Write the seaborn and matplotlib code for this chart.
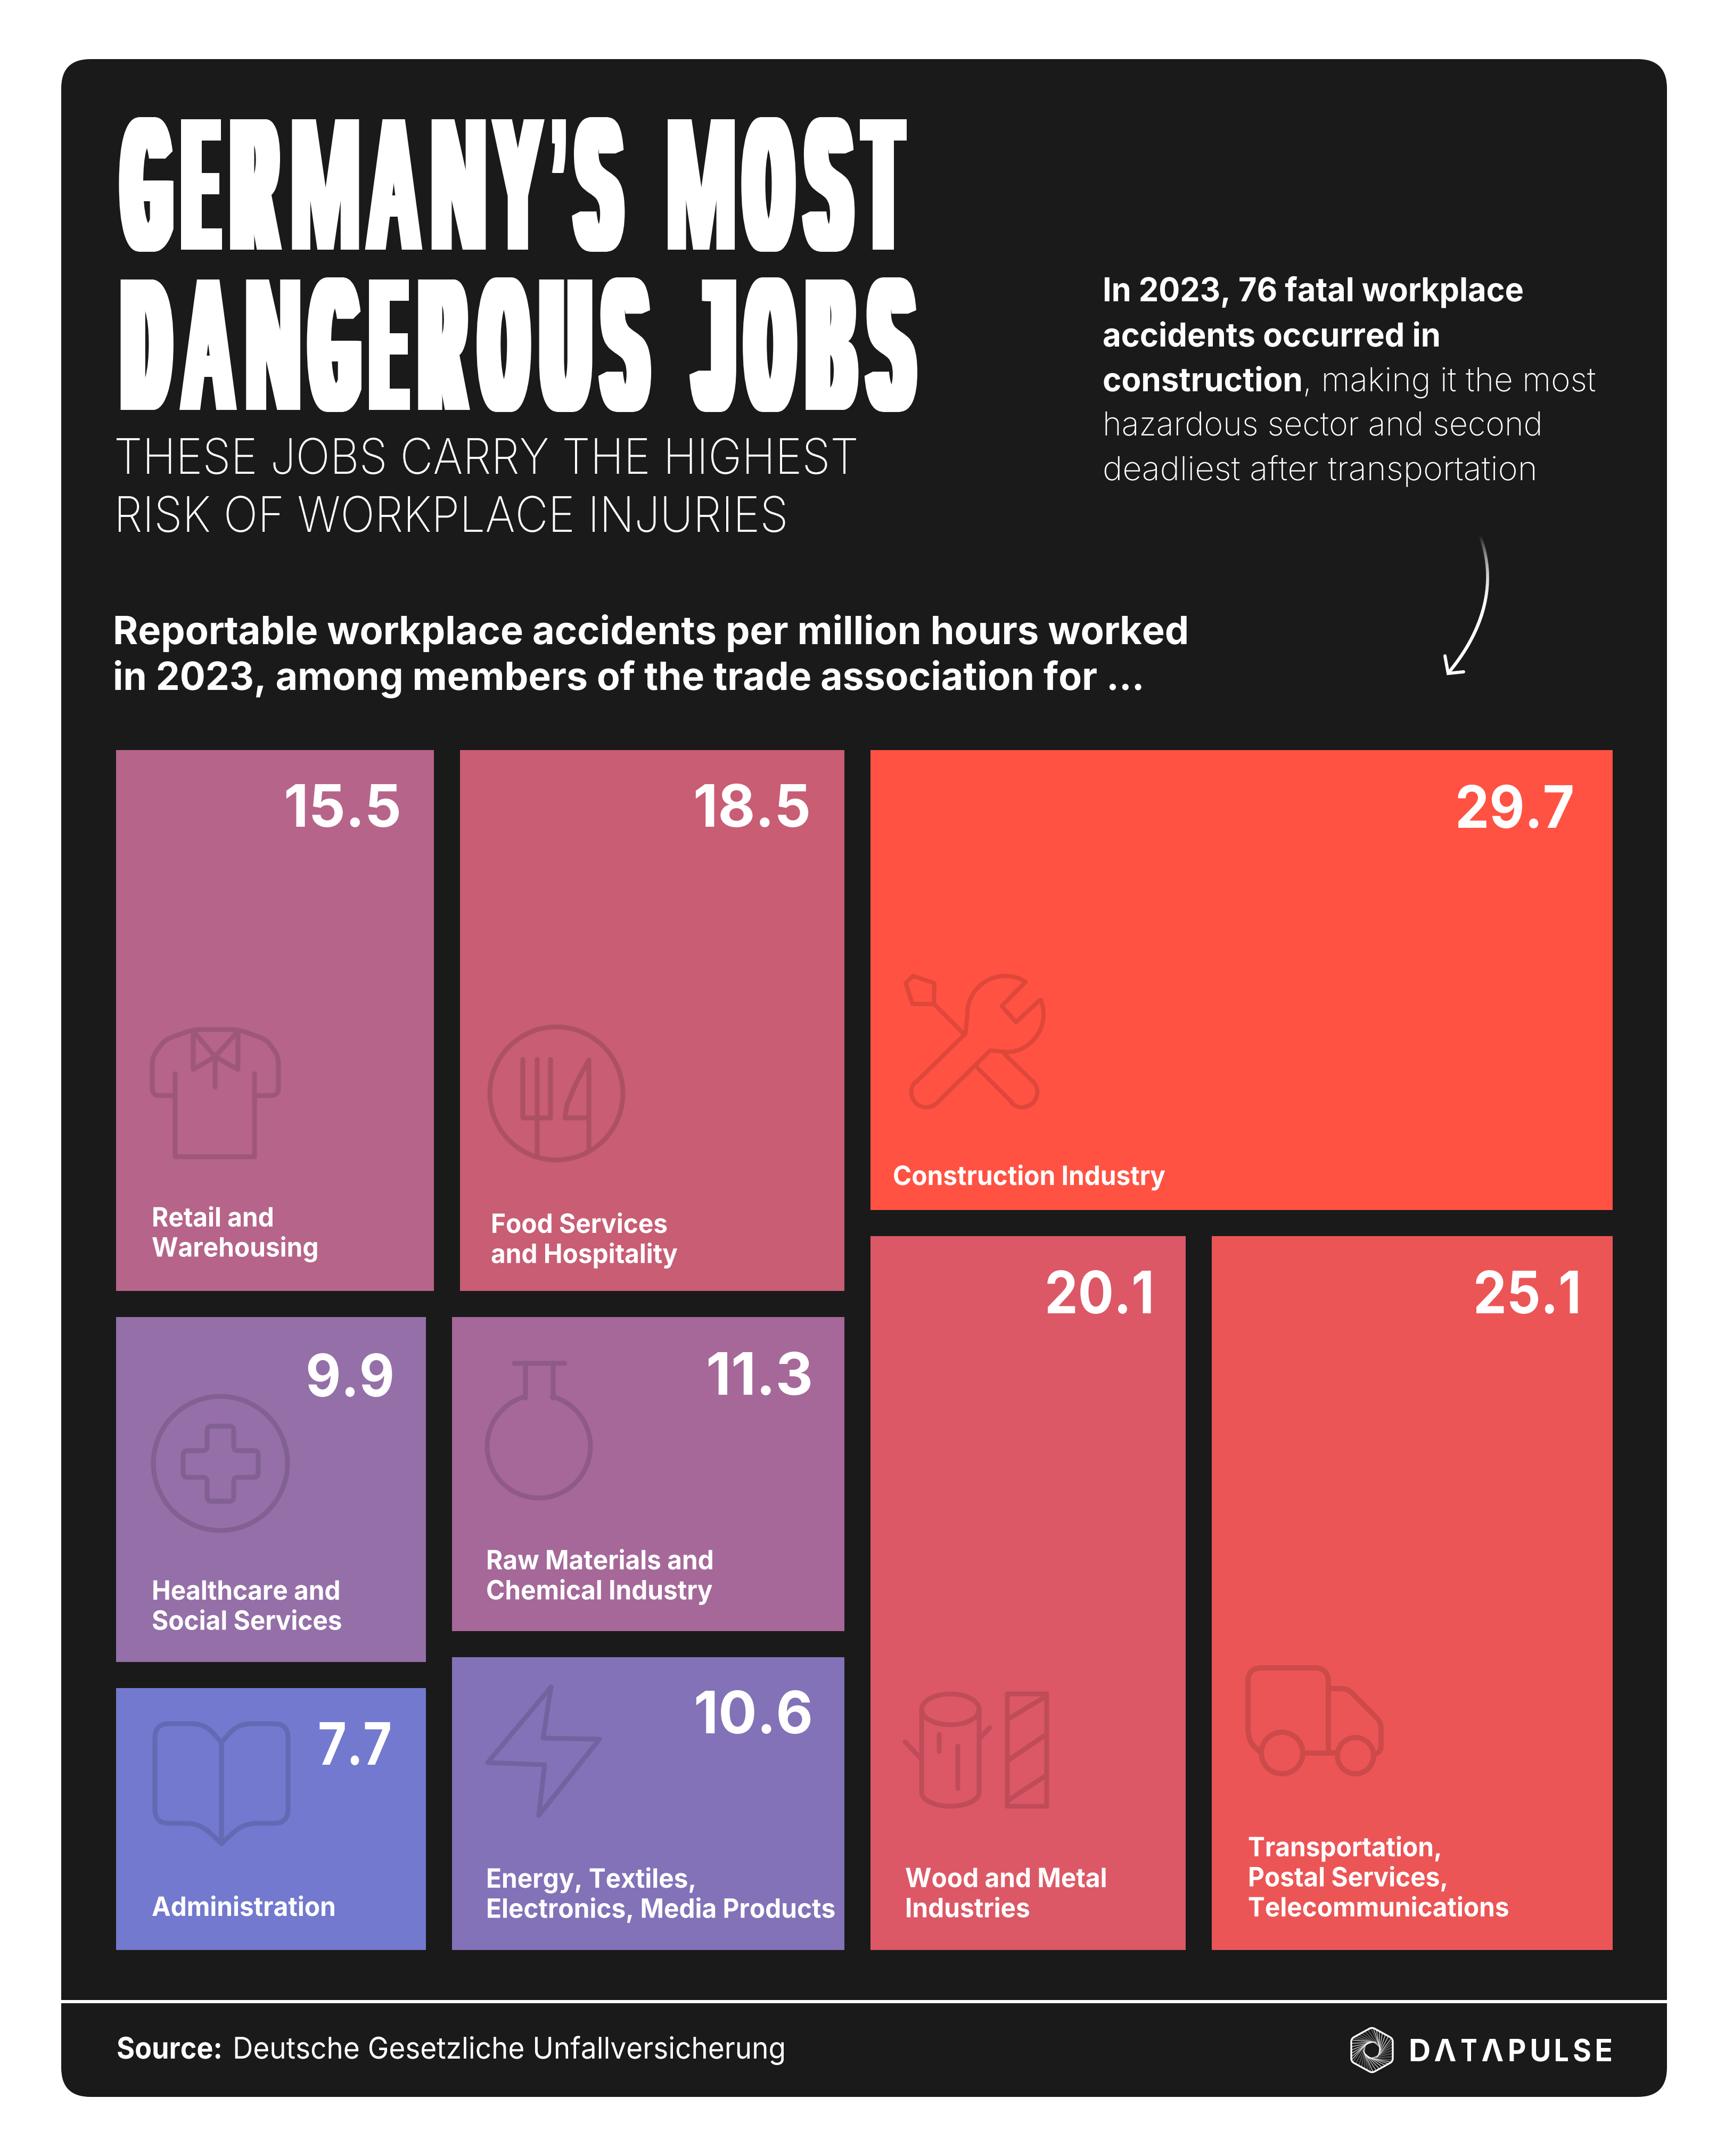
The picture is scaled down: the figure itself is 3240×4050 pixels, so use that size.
import numpy as np
import matplotlib
matplotlib.use("Agg")
import matplotlib.pyplot as plt
import seaborn as sns
from matplotlib.path import Path
from matplotlib.patches import PathPatch, FancyBboxPatch, Rectangle
from matplotlib.patheffects import AbstractPathEffect
from matplotlib.transforms import Affine2D
from matplotlib.collections import LineCollection
from matplotlib.textpath import TextPath
from matplotlib.font_manager import FontProperties

# ---------- data ----------
categories = ["Retail and\nWarehousing", "Food Services\nand Hospitality",
              "Healthcare and\nSocial Services", "Administration",
              "Raw Materials and\nChemical Industry",
              "Energy, Textiles,\nElectronics, Media Products",
              "Construction Industry", "Wood and Metal\nIndustries",
              "Transportation,\nPostal Services,\nTelecommunications"]
values = [15.5, 18.5, 9.9, 7.7, 11.3, 10.6, 29.7, 20.1, 25.1]
tile_colors = ["#B6648A", "#C85D74", "#956FA8", "#7279CE", "#A56899",
               "#8372B8", "#FF5243", "#DC5866", "#EC5556"]

title_lines = ["GERMANY\u2019S MOST", "DANGEROUS JOBS"]
subtitle_lines = ["THESE JOBS CARRY THE HIGHEST", "RISK OF WORKPLACE INJURIES"]
heading_lines = ["Reportable workplace accidents per million hours worked",
                 "in 2023, among members of the trade association for \u2026"]

# treemap hierarchy over the category indices (slice direction alternates)
tree = [[[0, 1], [[2, 3], [4, 5]]], [6, [7, 8]]]

# ---------- layout / style ----------
W, H = 3241, 4050
BG = "#1A1A1A"
INTER = ["Inter", "DejaVu Sans"]
HEAVY = ["Liberation Sans", "DejaVu Sans"]
GAP = 49
OUTER = (218 - GAP / 2, 1409 - GAP / 2, 3029 + GAP / 2, 3663 + GAP / 2)

value_anchor = [(754, 1553), (1523, 1553), (741, 2623), (736, 3315), (1527, 2620),
                (1527, 3256), (2957, 1555), (2168, 2467), (2970, 2467)]
value_width = [221, 221, 167, 139, 201, 224, 224, 206, 203]
label_anchor = [(285, 2304), (922, 2316), (285, 3005), (285, 3599), (913, 2948),
                (913, 3546), (1677, 2226), (1700, 3545), (2344, 3487)]
LABEL_PX, LABEL_LEAD, VALUE_PX, LABEL_SX = 50, 56.5, 110, 0.955

TITLE_WIDTHS = {"G": 100, "E": 78, "R": 98, "M": 128, "A": 104, "N": 104, "Y": 96, "\u2019": 30,
                "S": 96, "O": 100, "T": 84, "D": 100, "U": 100, "J": 84, "B": 100}
TITLE_BOLD = {"M": 7, "N": 10, "A": 10, "\u2019": 7, "Y": 10, "T": 12, "E": 13}
LOGO_WIDTHS = {"D": 38, "\u039b": 40, "T": 30, "P": 32, "U": 36, "L": 26, "S": 32, "E": 30}

sns.set_theme(style="white", rc={"figure.facecolor": "white"})
fig = plt.figure(figsize=(W / 100, H / 100), dpi=100)
ax = fig.add_axes([0, 0, 1, 1])
ax.set_xlim(0, W)
ax.set_ylim(H, 0)
ax.axis("off")
renderer = fig.canvas.get_renderer()


class Fit(AbstractPathEffect):
    """Scale glyph outlines about the text anchor."""
    def __init__(self, x, y, sx=1, sy=1):
        super().__init__()
        self.a = Affine2D().translate(-x, -y).scale(sx, sy).translate(x, y)

    def draw_path(self, renderer, gc, tpath, affine, rgbFace=None):
        renderer.draw_path(gc, tpath, affine + self.a, rgbFace)


class Poster(AbstractPathEffect):
    """Draw a string's glyphs one by one, each fitted to its own box, like a condensed poster face."""
    def __init__(self, s, x, base, family, weight, cap, width, table, gap, space=0.0,
                 bold=0.0, bolds=None, size=222):
        super().__init__()
        fp = FontProperties(family=family, weight=weight)
        hgt = np.ptp(TextPath((0, 0), "E", size=size, prop=fp).vertices[:, 1])
        self.sy = cap / hgt
        ink = [c for c in s if c != " "]
        f = (width - gap * (len(ink) - 1) - space * s.count(" ")) / sum(table[c] for c in ink)
        self.items = []
        pen = x
        for i, c in enumerate(s):
            if c == " ":
                pen += space - gap
                continue
            g = TextPath((0, 0), c, size=size, prop=fp)
            x0, x1 = g.vertices[:, 0].min(), g.vertices[:, 0].max()
            tw = table[c] * f
            b = (bolds or {}).get(c, bold)
            self.items.append((g, x0, (tw - 2 * b) / (x1 - x0), pen + b, b))
            pen += tw + gap
        self.y = H - base

    def draw_path(self, renderer, gc, tpath, affine, rgbFace=None):
        for g, x0, sx, px, b in self.items:
            offs = np.arange(-b, b + 0.01, 1.0) if b else [0]
            for o in offs:
                aff = Affine2D().translate(-x0, 0).scale(sx, self.sy).translate(px + o, self.y)
                renderer.draw_path(gc, g, aff, rgbFace)


def T(x, y, s, px, weight="normal", family=INTER, ha="left", w=None, scale=None, sy=1.0):
    t = ax.text(x, y, s, fontsize=px * 0.72, fontweight=weight, family=family,
                ha=ha, va="baseline", color="white", zorder=5)
    bb = t.get_window_extent(renderer)
    sx = w / bb.width if w else (scale or 1.0)
    if sx != 1 or sy != 1:
        t.set_path_effects([Fit(x, H - y, sx, sy)])
    return t, bb.width * sx


def layout(node, box, horiz=True):
    def total(n):
        return values[n] if isinstance(n, int) else sum(total(c) for c in n)
    if isinstance(node, int):
        return {node: box}
    x0, y0, x1, y1 = box
    out, used, tot = {}, 0.0, total(node)
    for c in node:
        a, b = used / tot, (used + total(c)) / tot
        used += total(c)
        sub = (x0 + a * (x1 - x0), y0, x0 + b * (x1 - x0), y1) if horiz else \
              (x0, y0 + a * (y1 - y0), x1, y0 + b * (y1 - y0))
        out.update(layout(c, sub, not horiz))
    return out


# ---------- panel ----------
R = 55
PX0, PY0, PX1, PY1 = 115, 111, 3131, 3939
ax.add_patch(FancyBboxPatch((PX0 + R, PY0 + R), PX1 - PX0 - 2 * R, PY1 - PY0 - 2 * R,
                            boxstyle=f"round,pad={R},rounding_size={R}",
                            fc=BG, ec="none", zorder=0))
ax.add_patch(Rectangle((PX0, 3757), PX1 - PX0, 6, fc="white", ec="none", zorder=1))

# ---------- treemap tiles ----------
boxes = layout(tree, OUTER, True)
for i, (cat, v) in enumerate(zip(categories, values)):
    x0, y0, x1, y1 = boxes[i]
    ax.bar(x0 + GAP / 2, (y1 - y0) - GAP, width=(x1 - x0) - GAP, bottom=y0 + GAP / 2,
           align="edge", color=tile_colors[i], linewidth=0, zorder=2)
    xv, yv = value_anchor[i]
    T(xv, yv, f"{v}", VALUE_PX, weight="bold", ha="right", w=value_width[i])
    xl, yl = label_anchor[i]
    for k, line in enumerate(cat.split("\n")):
        T(xl, yl + k * LABEL_LEAD, line, LABEL_PX, weight="bold", scale=LABEL_SX)


# ---------- icons ----------
def rpoly(pts, r=15, closed=False):
    pts = [np.array(p, float) for p in pts]
    n = len(pts)
    out = []
    idx = range(n) if closed else range(1, n - 1)
    if not closed:
        out.append(pts[0])
    for i in idx:
        p, a, b = pts[i], pts[i - 1], pts[(i + 1) % n]
        ra = min(r, np.linalg.norm(a - p) / 2)
        rb = min(r, np.linalg.norm(b - p) / 2)
        p0 = p + (a - p) / np.linalg.norm(a - p) * ra
        p1 = p + (b - p) / np.linalg.norm(b - p) * rb
        for t in np.linspace(0, 1, 9):
            out.append((1 - t) ** 2 * p0 + 2 * t * (1 - t) * p + t ** 2 * p1)
    if closed:
        out.append(out[0])
    else:
        out.append(pts[-1])
    return np.array(out)


def arc(cx, cy, r, a0=0, a1=360, ry=None, n=90):
    t = np.radians(np.linspace(a0, a1, n))
    return np.c_[cx + r * np.cos(t), cy + (ry or r) * np.sin(t)]


def icon(polys, lw=9):
    verts, codes = [], []
    for p in polys:
        p = np.asarray(p, float)
        verts.extend(p.tolist())
        codes.extend([Path.MOVETO] + [Path.LINETO] * (len(p) - 1))
    ax.add_patch(PathPatch(Path(verts, codes), fc="none", ec=(0, 0, 0, 0.13),
                           lw=lw * 0.72, capstyle="round", joinstyle="round", zorder=3))


# shirt
icon([rpoly([(329, 2058), (286, 2058), (286, 1985), (310, 1953), (363, 1934), (447, 1934),
             (501, 1953), (523, 1985), (523, 2058), (478, 2058)], 14),
      [(329, 2017), (329, 2173), (478, 2173), (478, 2017)],
      [(363, 1937), (404, 1985), (447, 1937)],
      [(363, 1937), (363, 2009), (404, 1985), (447, 2009), (447, 1937)],
      [(404, 1985), (404, 2042)]])
# plate, fork, knife
icon([arc(1045, 2054, 125),
      [(982, 1990), (982, 2100), (1034, 2100), (1034, 1990)],
      [(1009, 1990), (1009, 2169)],
      [(1106, 2160), (1106, 1991), (1082, 2035), (1065, 2075), (1061, 2100), (1106, 2100)]])
# health cross
icon([arc(414, 2749, 126),
      rpoly([(389, 2679), (439, 2679), (439, 2725), (485, 2725), (485, 2775), (439, 2775),
             (439, 2820), (389, 2820), (389, 2775), (344, 2775), (344, 2725), (389, 2725)], 8, True)])
# flask
icon([[(966, 2561), (1061, 2561)],
      np.vstack([[(987, 2561), (987, 2626)], arc(1012, 2717, 97, -105, -435),
                 [(1039, 2626), (1039, 2561)]])])
# book
L = [(416, 3273), (385, 3238), (291, 3238), (291, 3425), (375, 3425), (416, 3463)]
Rt = [(416, 3273), (447, 3238), (541, 3238), (541, 3425), (457, 3425), (416, 3463)]
icon([rpoly(L, 26), rpoly(Rt, 26), [(416, 3273), (416, 3463)]])
# bolt
icon([[(1035, 3169), (1020, 3265), (1126, 3267), (1012, 3410), (1023, 3315), (916, 3311), (1035, 3169)]])


# wrench and screwdriver (drawn in 3x crop units)
def Z(p):
    p = np.atleast_2d(p).astype(float)
    return np.c_[1600 + p[:, 0] / 3, 1750 + p[:, 1] / 3]


head = arc(865, 465, 215, 178, 302)
head2 = arc(865, 465, 215, -22, 86)
wrench = np.vstack([
    [(360, 850), (640, 575)], head, [(845, 420), (925, 510), (1060, 385)], head2,
    [(780, 670), (480, 965)], arc(420, 905, 85, 45, 225, n=30)])
icon([Z(wrench),
      Z([(345, 250), (465, 290), (462, 408), (342, 408), (303, 290), (345, 250)]),
      Z([(465, 410), (625, 570)]),
      Z(np.vstack([[(695, 755), (900, 960)], arc(960, 905, 85, 135, -45, n=30), [(860, 690)]]))], lw=8)
# log and plank
icon([arc(1785, 3211, 54, ry=29),
      np.vstack([[(1731, 3211)], arc(1785, 3367, 54, 180, 0, ry=26, n=40), [(1839, 3211)]]),
      [(1700, 3272), (1731, 3305)], [(1859, 3245), (1839, 3267)],
      [(1764, 3258), (1764, 3290)], [(1799, 3280), (1799, 3360)],
      [(1892, 3182), (1966, 3182), (1966, 3393), (1892, 3393), (1892, 3182)],
      [(1892, 3230), (1962, 3188)], [(1892, 3308), (1962, 3260)], [(1892, 3383), (1962, 3337)]])
# truck
icon([rpoly([(2369, 3293), (2344, 3270), (2344, 3133), (2495, 3133), (2495, 3293)], 26),
      [(2447, 3293), (2512, 3293)],
      rpoly([(2495, 3172), (2531, 3172), (2594, 3235), (2594, 3290), (2580, 3296)], 12),
      arc(2408, 3293, 39), arc(2546, 3298, 34)], lw=10)

# ---------- header text ----------
for s, base, wd in [(title_lines[0], 469, 1492), (title_lines[1], 770, 1512)]:
    t, _ = T(219, base, s, 150, weight="bold", family=HEAVY)
    t.set_path_effects([Poster(s, 219, base, HEAVY, "bold", 245, wd, TITLE_WIDTHS, gap=8,
                               space=70, bold=15, bolds=TITLE_BOLD)])
T(214, 890, subtitle_lines[0], 92, weight="light", w=1398)
T(214, 999, subtitle_lines[1], 92, weight="light", w=1266)
T(212, 1210, heading_lines[0], 73, weight="bold", w=2018)
T(212, 1296, heading_lines[1], 73, weight="bold", w=1935)

PARA_X, PARA_PX = 2071, 62
T(PARA_X, 566, "In 2023, 76 fatal workplace", PARA_PX, weight="bold", w=791)
T(PARA_X, 651, "accidents occurred in", PARA_PX, weight="bold", w=635)
T(PARA_X, 735, "construction", PARA_PX, weight="bold", w=376)
T(PARA_X + 376, 735, ", making it the most", PARA_PX, weight="light", w=550)
T(PARA_X, 818, "hazardous sector and second", PARA_PX, weight="light", w=826)
T(PARA_X, 902, "deadliest after transportation", PARA_PX, weight="light", w=816)

# ---------- arrow ----------
t = np.linspace(0, 1, 80)[:, None]
p0, p1, p2, p3 = map(np.array, [(2779, 1004), (2812, 1090), (2790, 1180), (2722, 1262)])
curve = (1 - t) ** 3 * p0 + 3 * t * (1 - t) ** 2 * p1 + 3 * t ** 2 * (1 - t) * p2 + t ** 3 * p3
segs = np.stack([curve[:-1], curve[1:]], axis=1)
rgba = np.ones((len(segs), 4))
rgba[:, 3] = np.clip(np.linspace(0, 1.6, len(segs)), 0, 1)
ax.add_collection(LineCollection(segs, colors=rgba, linewidths=6 * 0.72, capstyle="round", zorder=4))
ax.plot([2714, 2720, 2749], [1232, 1265, 1262], color="white", lw=6 * 0.72,
        solid_capstyle="round", solid_joinstyle="miter", zorder=4)

# ---------- footer ----------
T(219, 3867, "Source:", 56, weight="bold", w=199)
T(437, 3867, "Deutsche Gesetzliche Unfallversicherung", 56, weight="normal", w=1039)

# logo: hexagon with three twisted ribbons of fine lines around a dark centre
cx, cy = 2577, 3851
ang = np.radians(np.arange(0, 7) * 60 - 90)
outer = np.c_[cx + 39 * np.cos(ang) / np.cos(np.pi / 6), cy + 43 * np.sin(ang)]
inner = np.c_[cx + 17 * np.cos(ang + 0.5), cy + 17 * np.sin(ang + 0.5)]
ax.plot(*rpoly(outer[:-1], 6, True).T, color="white", lw=2.4, zorder=4)
for k in range(0, 6):
    for f in np.linspace(0.06, 0.94, 7):
        a = outer[k] + f * (outer[k + 1] - outer[k])
        j = (k + 1) % 6
        b = inner[j] + f * (inner[j + 1] - inner[j])
        ax.plot([a[0], b[0]], [a[1], b[1]], color="white", lw=0.9,
                alpha=0.85 if k % 2 == 0 else 0.4, zorder=4)

logo = "DATAPULSE"
lt, _ = T(2646, 3872, logo, 50, weight="bold")
lt.set_path_effects([Poster("D\u039bT\u039bPULSE", 2646, 3872, INTER, "bold", 42, 380, LOGO_WIDTHS,
                            gap=9, size=58)])

fig.savefig("out.png", dpi=100, facecolor="white")
